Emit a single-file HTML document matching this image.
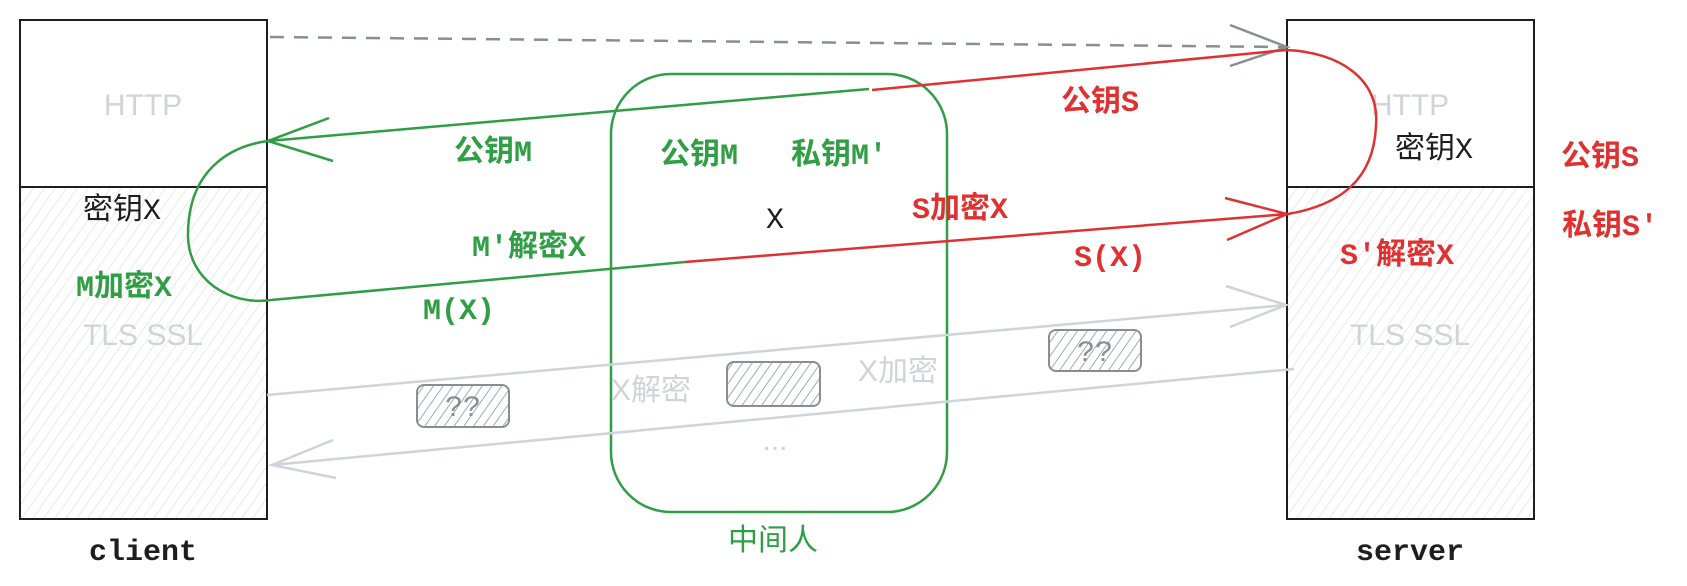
<!DOCTYPE html>
<html><head><meta charset="utf-8"><style>
html,body{margin:0;padding:0;background:#fff;}
svg{display:block}
text{font-family:"Liberation Mono","Noto Sans CJK SC",monospace;font-size:30px;}
.g{fill:#2f9e44;font-weight:bold}
.r{fill:#e03131;font-weight:bold}
.k{fill:#1e1e1e}
.l{fill:#ced4da;font-family:"Liberation Sans","Noto Sans CJK SC",sans-serif;}
</style></head><body>
<svg width="1687" height="586" viewBox="0 0 1687 586" xmlns="http://www.w3.org/2000/svg">
<defs>
<pattern id="h" width="9" height="9" patternUnits="userSpaceOnUse" patternTransform="rotate(35)">
<line x1="0" y1="0" x2="0" y2="9" stroke="#d6d6d6" stroke-width="1"/>
</pattern>
<pattern id="h2" width="8" height="8" patternUnits="userSpaceOnUse" patternTransform="rotate(35)">
<line x1="0" y1="0" x2="0" y2="8" stroke="#868e96" stroke-width="1.5"/>
</pattern>
</defs>
<rect x="20" y="187" width="247" height="332" fill="url(#h)"/>
<rect x="20" y="20" width="247" height="499" fill="none" stroke="#1e1e1e" stroke-width="2"/>
<line x1="20" y1="187" x2="267" y2="187" stroke="#1e1e1e" stroke-width="2"/>
<rect x="1287" y="187" width="247" height="332" fill="url(#h)"/>
<rect x="1287" y="20" width="247" height="499" fill="none" stroke="#1e1e1e" stroke-width="2"/>
<line x1="1287" y1="187" x2="1534" y2="187" stroke="#1e1e1e" stroke-width="2"/>

<text x="143" y="115" class="l" text-anchor="middle">HTTP</text>
<text x="143" y="345" class="l" text-anchor="middle">TLS  SSL</text>
<text x="1410" y="115" class="l" text-anchor="middle">HTTP</text>
<text x="1410" y="345" class="l" text-anchor="middle">TLS  SSL</text>

<line x1="270" y1="37" x2="1286" y2="47" stroke="#868e96" stroke-width="2.5" stroke-dasharray="14 10"/>
<polyline points="1230,25 1287,47 1230,66" fill="none" stroke="#868e96" stroke-width="2.5"/>

<rect x="611" y="74" width="336" height="438" rx="60" fill="none" stroke="#2f9e44" stroke-width="2.5"/>

<path d="M869,89 L268,141 C230,146 188,170 188,235 C188,280 230,306 271,300 L685,262" fill="none" stroke="#2f9e44" stroke-width="2.5"/>
<polyline points="329,118 268,141 333,161" fill="none" stroke="#2f9e44" stroke-width="2.5"/>
<path d="M872,90 L1286,50 C1340,52 1380,80 1376,125 C1374,180 1340,205 1288,214 L685,262" fill="none" stroke="#e03131" stroke-width="2.5"/>
<polyline points="1225,198 1287,214 1227,240" fill="none" stroke="#e03131" stroke-width="2.5"/>

<line x1="267" y1="395" x2="1286" y2="305" stroke="#ced4da" stroke-width="2.5"/>
<polyline points="1226,286 1286,305 1230,327" fill="none" stroke="#ced4da" stroke-width="2.5"/>
<line x1="1294" y1="369" x2="272" y2="465" stroke="#ced4da" stroke-width="2.5"/>
<polyline points="333,440 272,465 336,478" fill="none" stroke="#ced4da" stroke-width="2.5"/>

<g stroke="#868e96" stroke-width="2">
<rect x="417" y="385" width="92" height="42" rx="7" fill="url(#h2)"/>
<rect x="727" y="362" width="93" height="44" rx="7" fill="url(#h2)"/>
<rect x="1049" y="330" width="92" height="41" rx="7" fill="url(#h2)"/>
</g>
<text x="463" y="416" fill="#868e96" font-size="24" text-anchor="middle">??</text>
<text x="1095" y="361" fill="#868e96" font-size="24" text-anchor="middle">??</text>

<text x="122" y="219" class="k" text-anchor="middle">密钥X</text>
<text x="124" y="296" class="g" text-anchor="middle">M加密X</text>
<text x="493" y="161" class="g" text-anchor="middle">公钥M</text>
<text x="529" y="256" class="g" text-anchor="middle">M'解密X</text>
<text x="459" y="319" class="g" text-anchor="middle">M(X)</text>
<text x="699" y="164" class="g" text-anchor="middle">公钥M</text>
<text x="839" y="164" class="g" text-anchor="middle">私钥M'</text>
<text x="775" y="228" class="k" text-anchor="middle" font-size="34">X</text>
<text x="960" y="218" class="r" text-anchor="middle">S加密X</text>
<text x="1100" y="111" class="r" text-anchor="middle">公钥S</text>
<text x="1110" y="266" class="r" text-anchor="middle">S(X)</text>
<text x="651" y="400" class="l" text-anchor="middle">X解密</text>
<text x="898" y="381" class="l" text-anchor="middle">X加密</text>
<text x="775" y="450" class="l" text-anchor="middle">...</text>
<text x="1434" y="158" class="k" text-anchor="middle">密钥X</text>
<text x="1397" y="264" class="r" text-anchor="middle">S'解密X</text>
<text x="1600" y="166" class="r" text-anchor="middle">公钥S</text>
<text x="1610" y="235" class="r" text-anchor="middle">私钥S'</text>
<text x="773" y="550" fill="#2f9e44" text-anchor="middle" font-family="'Liberation Sans','Noto Sans CJK SC',sans-serif">中间人</text>
<text x="143" y="560" class="k" text-anchor="middle" font-weight="bold" font-size="32">client</text>
<text x="1410" y="560" class="k" text-anchor="middle" font-weight="bold" font-size="32">server</text>
</svg>
</body></html>
